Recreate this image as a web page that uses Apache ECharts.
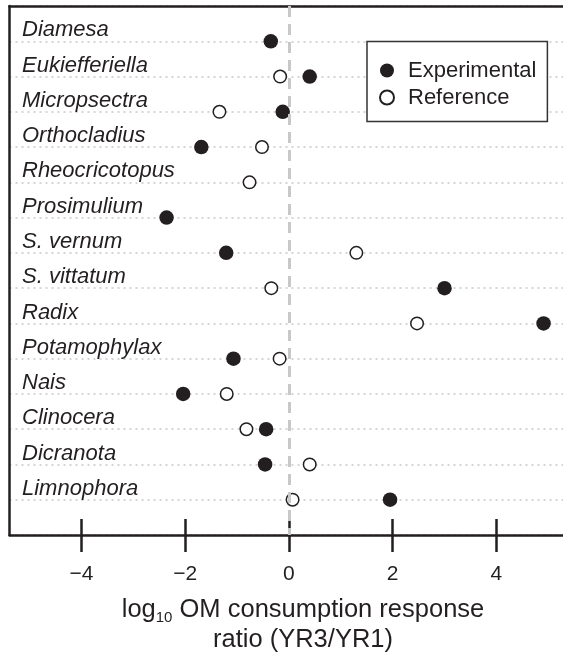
<!DOCTYPE html>
<html>
<head>
<meta charset="utf-8">
<script src="https://cdn.jsdelivr.net/npm/echarts@6/dist/echarts.min.js"></script>
<style>
html,body{margin:0;padding:0;background:#fff;}
#chart{width:563px;height:653px;}
</style>
</head>
<body>
<div id="chart"></div>
<script>
const categories = ['Diamesa', 'Eukiefferiella', 'Micropsectra', 'Orthocladius', 'Rheocricotopus',
  'Prosimulium', 'S. vernum', 'S. vittatum', 'Radix', 'Potamophylax', 'Nais', 'Clinocera',
  'Dicranota', 'Limnophora'];
const experimental = [-0.35, 0.40, -0.12, -1.69, null, -2.36, -1.21, 3.00, 4.91, -1.07, -2.04, -0.44, -0.46, 1.95];
const reference = [null, -0.17, -1.34, -0.52, -0.76, null, 1.30, -0.34, 2.47, -0.18, -1.20, -0.82, 0.40, 0.07];
const xTicks = [-4, -2, 0, 2, 4];

const ink = '#231f20';
const font = '"Liberation Sans", Arial, Helvetica, sans-serif';

function toPoints(arr) {
  const out = [];
  arr.forEach((v, i) => { if (v !== null) out.push([v, i + 1]); });
  return out;
}

const xMin = -5.389, xMax = 5.285;
const chart = echarts.init(document.getElementById('chart'));
chart.setOption({
  animation: false,
  backgroundColor: '#fff',
  textStyle: { fontFamily: font, color: ink },
  grid: { left: 9.5, right: 0, top: 6, bottom: 118, containLabel: false },
  title: {
    text: '{t|log}{s|10}{t| OM consumption response}\n{t|ratio (YR3/YR1)}',
    left: 303, top: 595, textAlign: 'center', padding: 0,
    textStyle: {
      fontWeight: 'normal',
      rich: {
        t: { fontSize: 25.5, lineHeight: 30, color: ink, fontFamily: font, fontWeight: 'normal' },
        s: { fontSize: 15, lineHeight: 30, color: ink, fontFamily: font, fontWeight: 'normal', verticalAlign: 'bottom' }
      }
    }
  },
  legend: {
    orient: 'vertical', left: 367, top: 41.5,
    padding: [18, 11, 13, 12],
    itemWidth: 22, itemHeight: 14, itemGap: 5,
    borderColor: '#333', borderWidth: 1.5, borderRadius: 0,
    backgroundColor: '#fff',
    textStyle: { fontSize: 22, lineHeight: 22, color: ink, fontFamily: font, padding: [0, 0, 0, 5] },
    data: [{ name: 'Experimental', icon: 'circle' }, { name: 'Reference', icon: 'circle' }]
  },
  xAxis: [
    {
      type: 'value', min: xMin, max: xMax, position: 'bottom',
      axisLine: { show: true, onZero: false, lineStyle: { color: ink, width: 2.5 } },
      axisTick: { show: true, customValues: xTicks, length: 17, lineStyle: { color: ink, width: 2.5 } },
      axisLabel: {
        show: true, customValues: xTicks, margin: 29, fontSize: 21, color: ink, fontFamily: font,
        formatter: v => String(v).replace('-', '\u2212')
      },
      splitLine: { show: false }
    },
    {
      type: 'value', min: xMin, max: xMax, position: 'top',
      axisLine: { show: true, onZero: false, lineStyle: { color: ink, width: 2.5 } },
      axisTick: { show: false }, axisLabel: { show: false }, splitLine: { show: false }
    },
    {
      type: 'value', min: xMin, max: xMax, position: 'bottom',
      axisLine: { show: false, onZero: false },
      axisTick: { show: true, inside: true, customValues: xTicks, length: 16, lineStyle: { color: ink, width: 2.5 } },
      axisLabel: { show: false }, splitLine: { show: false }
    }
  ],
  yAxis: {
    type: 'value', min: 0, max: 15, interval: 1, inverse: true,
    axisLine: { show: true, onZero: false, lineStyle: { color: ink, width: 2.5 } },
    axisTick: { show: false },
    axisLabel: {
      inside: true, margin: 12.5, verticalAlign: 'bottom', align: 'left',
      fontStyle: 'italic', fontSize: 22, color: ink, fontFamily: font,
      formatter: v => categories[v - 1] || ''
    },
    splitLine: { show: true, lineStyle: { type: [2, 4], color: '#c8c8c8', width: 1.5 } }
  },
  series: [
    {
      name: 'Experimental', type: 'scatter', xAxisIndex: 0,
      data: toPoints(experimental), symbol: 'circle', symbolSize: 14.5,
      itemStyle: { color: ink, opacity: 1 }, z: 3,
      markLine: {
        silent: true, symbol: ['none', 'none'], label: { show: false },
        lineStyle: { color: '#c8c8c8', width: 3, type: [11, 7] },
        emphasis: { disabled: true },
        data: [{ xAxis: 0 }]
      }
    },
    {
      name: 'Reference', type: 'scatter', xAxisIndex: 0,
      data: toPoints(reference), symbol: 'circle', symbolSize: 12.5,
      itemStyle: { color: '#fff', borderColor: ink, borderWidth: 1.5, opacity: 1 }, z: 3
    }
  ]
});
</script>
</body>
</html>
